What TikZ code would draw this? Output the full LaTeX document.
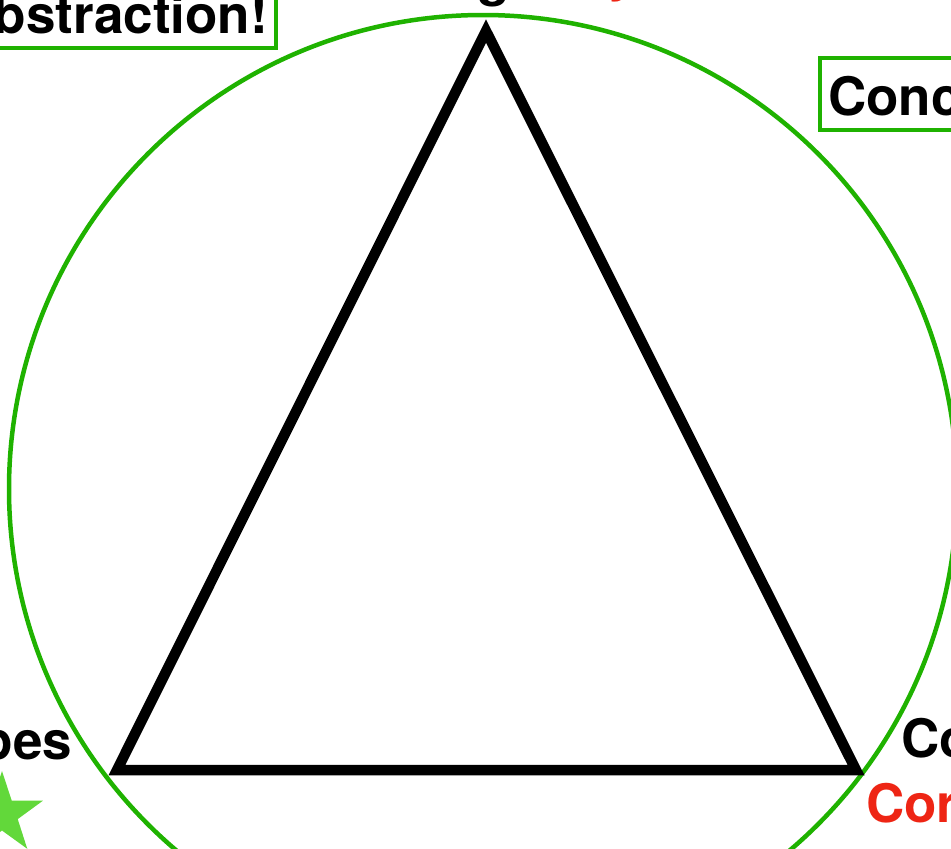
\documentclass[tikz,border=0pt]{standalone}
\usepackage{fontspec}
\setmainfont{TeX Gyre Heros}
\usepackage{xcolor}
\usetikzlibrary{positioning,shapes.geometric}
\definecolor{ringgreen}{HTML}{1FB200}
\definecolor{stargreen}{HTML}{62D83A}
\definecolor{notered}{HTML}{EE2514}

\begin{document}
\begin{tikzpicture}[
			x=1pt,
			y=-1pt,
			line join=miter,
			lbl/.style={font=\fontsize{53}{60}\selectfont\bfseries,inner sep=0pt,outer sep=0pt},
			tagbox/.style={lbl,draw=ringgreen,line width=4pt,inner xsep=8pt,inner ysep=15pt,text height=42pt,text depth=0pt},
			ring/.style={draw=ringgreen,line width=4.5pt},
			side/.style={line width=10.5pt}
			]
			
			\useasboundingbox (0,0) rectangle (951,849);
			
			%------------------------------
			% The ring and the triangle
			%------------------------------
			\coordinate (mid) at (483,489);
			\draw[ring] (mid) circle[radius=474];
			
			\coordinate (top) at (486,31);
			\coordinate (left) at (117,770);
			\coordinate (right) at (856,770);
			\draw[side] (top) -- (left) -- (right) -- cycle;
			
			%------------------------------
			% Corner labels
			%------------------------------
			\node[lbl, anchor=base west] (name_top) at (413,-5) {Logic};
			\node[lbl, anchor=base west, text=notered] (note_top) at (572,-9.5) {Syntax};
			\node[lbl, anchor=base east] (name_left) at (72,759) {Types};
			\node[lbl, anchor=base west] (name_right) at (901,757) {Computation};
			\node[lbl, anchor=base west, text=notered] (note_right) at (866,822) {Correctness};
			
			%------------------------------
			% Boxed remarks
			%------------------------------
			\node[tagbox, anchor=south east] (abstr) at (276,48) {Abstraction!};
			\node[tagbox, anchor=north west] (concr) at (820,58) {Concrete!};
			
			\node[star, star points=5, star point ratio=2.6, minimum size=86pt, inner sep=0pt, fill=stargreen] (mark) at (2,814) {};
		\end{tikzpicture}
\end{document}
